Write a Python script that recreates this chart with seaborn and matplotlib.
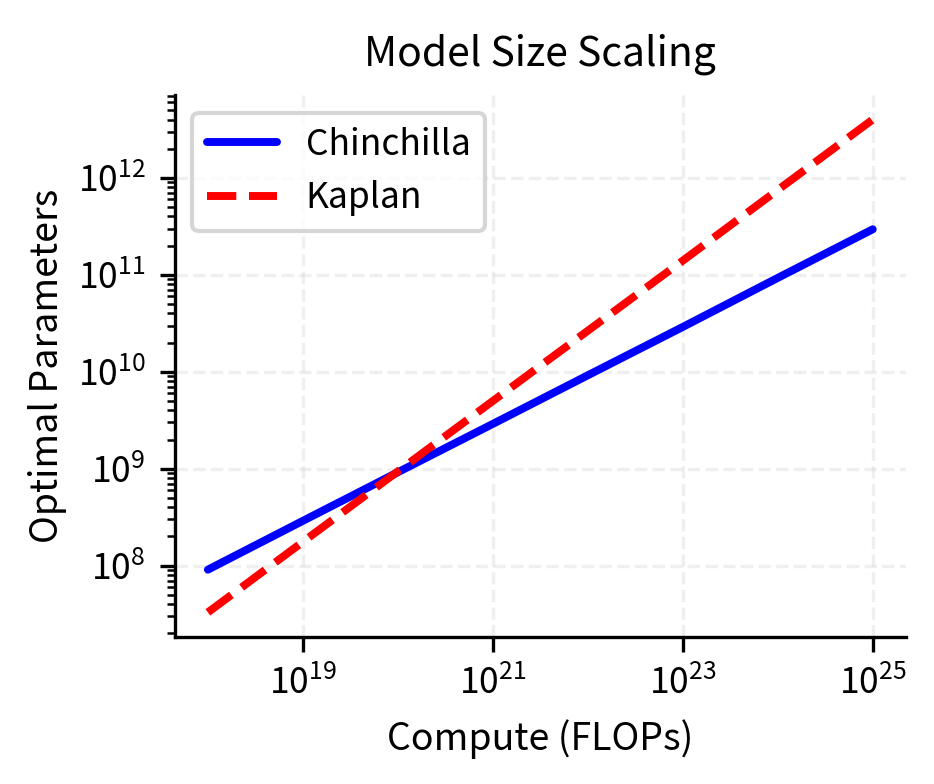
import numpy as np
import pandas as pd
import matplotlib
matplotlib.use("Agg")
import matplotlib.pyplot as plt
import seaborn as sns

# values (log-log, one point per decade)
compute = [1e18, 1e19, 1e20, 1e21, 1e22, 1e23, 1e24, 1e25]
chinchilla = [9.1e7, 2.9e8, 9.2e8, 2.9e9, 9.2e9, 2.9e10, 9.3e10, 2.95e11]
kaplan = [3.3e7, 1.76e8, 9.4e8, 5.0e9, 2.65e10, 1.4e11, 7.5e11, 4.0e12]

sns.set_style("ticks")
plt.rcParams["font.family"] = ["Noto Sans CJK KR", "DejaVu Sans"]
plt.rcParams["text.color"] = "black"
plt.rcParams["axes.labelcolor"] = "black"
plt.rcParams["xtick.color"] = "black"
plt.rcParams["ytick.color"] = "black"
plt.rcParams["axes.edgecolor"] = "black"

df = pd.DataFrame({"compute": compute, "Chinchilla": chinchilla, "Kaplan": kaplan})

fig = plt.figure(figsize=(934 / 300, 784 / 300), dpi=300)
ax = fig.add_axes([0.187, 0.1875, 0.783, 0.6915])

sns.lineplot(data=df, x="compute", y="Chinchilla", ax=ax, color="blue",
             linewidth=1.9, label="Chinchilla")
sns.lineplot(data=df, x="compute", y="Kaplan", ax=ax, color="red",
             linewidth=1.9, linestyle="--", label="Kaplan")

ax.set_xscale("log")
ax.set_yscale("log")
ax.grid(True, which="major", linestyle="--", alpha=0.3, linewidth=0.8)

ax.set_title("Model Size Scaling", fontsize=9.8, pad=7)
ax.set_xlabel("Compute (FLOPs)", fontsize=9)
ax.set_ylabel("Optimal Parameters", fontsize=9, labelpad=2.5)
ax.tick_params(labelsize=8.5)
ax.legend(loc="upper left", fontsize=8.5)
sns.despine(ax=ax)

fig.savefig("out.png", dpi=300)
